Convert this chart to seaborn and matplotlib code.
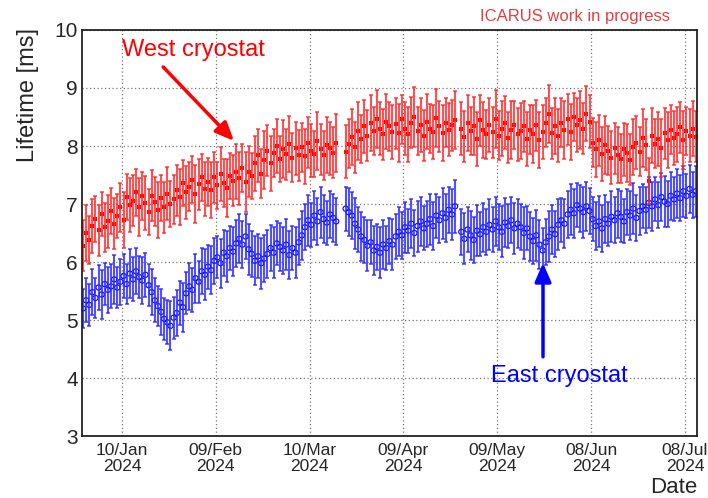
import numpy as np
import pandas as pd
import matplotlib
matplotlib.use("Agg")
import matplotlib.pyplot as plt
import matplotlib.dates as mdates
from matplotlib.ticker import MultipleLocator, FixedLocator
import seaborn as sns

nan = np.nan

# one point per day, starting 28 Dec 2023
start_day = "2023-12-28 12:00"

west_ms = [
    6.28, 6.50, 6.38, 6.62, 6.74, 6.55, 6.82, 6.60, 6.70, 6.88,
    6.66, 6.80, 6.94, 6.72, 7.12, 6.98, 7.06, 7.20, 6.94, 7.14,
    7.02, 6.86, 7.14, 7.04, 6.90, 7.10, 6.94, 7.18, 7.00, 7.08,
    7.24, 7.12, 7.36, 7.20, 7.30, 7.42, 7.18, 7.34, 7.46, 7.26,
    7.38, 7.24, 7.46, 7.32, 7.52, 7.36, 7.28, 7.48, 7.40, 7.56,
    7.44, 7.62, 7.38, 7.56, 7.48, 7.70, 7.84, 7.52, 7.76, 7.92,
    7.70, 7.88, 8.00, 7.78, 7.94, 7.86, 8.04, 7.80, 7.96, 7.84,
    7.98, 7.82, 8.06, 7.92, 7.86, 8.08, 7.94, 7.84, 8.02, 7.96,
    7.88, 8.06, nan, nan, 7.90, 8.04, 8.16, 7.98, 8.26, 8.12,
    8.34, 8.18, 8.40, 8.26, 8.46, 8.30, 8.20, 8.42, 8.34, 8.24,
    8.38, 8.22, 8.46, 8.30, 8.20, 8.40, 8.50, 8.26, 8.36, 8.18,
    8.42, 8.30, 8.24, 8.48, 8.34, 8.22, 8.40, 8.28, 8.36, 8.44,
    nan, 8.30, 8.16, 8.40, 8.26, 8.34, 8.12, 8.44, 8.28, 8.20,
    8.36, 8.24, 8.46, 8.18, 8.30, 8.40, 8.14, 8.28, 8.36, 8.20,
    8.26, 8.34, 8.12, 8.28, 8.20, 8.36, 8.10, 8.24, 8.40, 8.56,
    8.22, 8.34, 8.18, 8.40, 8.28, 8.46, 8.24, 8.50, 8.36, 8.44,
    8.30, 8.56, 8.42, 8.06, 7.94, 8.10, 7.86, 8.02, 7.92, 7.80,
    7.96, 7.84, 7.78, 7.94, 7.88, 7.76, 7.98, 8.06, 7.90, 8.14,
    8.02, 7.40, 8.18, 8.04, 8.12, 7.96, 8.22, 8.10, 8.28, 8.14,
    8.20, 8.32, 8.10, 8.26, 8.18, 8.30, 8.16,
]
west_err = [
    0.44, 0.48, 0.42, 0.46, 0.40, 0.44, 0.38, 0.42, 0.46, 0.40,
    0.44, 0.38, 0.42, 0.48, 0.40, 0.46, 0.44, 0.40, 0.50, 0.42,
    0.46, 0.40, 0.44, 0.42, 0.48, 0.40, 0.44, 0.46, 0.40, 0.42,
    0.44, 0.48, 0.40, 0.46, 0.42, 0.40, 0.50, 0.44, 0.40, 0.46,
    0.42, 0.48, 0.44, 0.40, 0.46, 0.42, 0.50, 0.40, 0.44, 0.48,
    0.46, 0.42, 0.52, 0.44, 0.40, 0.48, 0.46, 0.42, 0.50, 0.44,
    0.48, 0.42, 0.46, 0.40, 0.50, 0.44, 0.48, 0.42, 0.46, 0.44,
    0.42, 0.48, 0.44, 0.46, 0.40, 0.50, 0.44, 0.42, 0.48, 0.46,
    0.44, 0.50, nan, nan, 0.46, 0.42, 0.48, 0.44, 0.50, 0.42,
    0.46, 0.44, 0.48, 0.42, 0.50, 0.46, 0.44, 0.48, 0.42, 0.46,
    0.44, 0.50, 0.42, 0.46, 0.48, 0.44, 0.52, 0.42, 0.46, 0.44,
    0.48, 0.42, 0.46, 0.50, 0.44, 0.48, 0.42, 0.46, 0.44, 0.50,
    nan, 0.46, 0.44, 0.48, 0.42, 0.50, 0.46, 0.44, 0.48, 0.42,
    0.46, 0.44, 0.50, 0.42, 0.48, 0.46, 0.44, 0.50, 0.42, 0.46,
    0.48, 0.44, 0.46, 0.42, 0.50, 0.44, 0.48, 0.46, 0.42, 0.50,
    0.44, 0.48, 0.46, 0.42, 0.50, 0.44, 0.48, 0.42, 0.46, 0.50,
    0.44, 0.48, 0.46, 0.42, 0.48, 0.44, 0.46, 0.50, 0.42, 0.46,
    0.44, 0.48, 0.42, 0.46, 0.50, 0.44, 0.48, 0.46, 0.42, 0.50,
    0.44, 0.40, 0.48, 0.42, 0.46, 0.50, 0.44, 0.48, 0.42, 0.46,
    0.48, 0.44, 0.50, 0.42, 0.46, 0.48, 0.44,
]
east_ms = [
    5.20, 5.34, 5.26, 5.48, 5.38, 5.56, 5.44, 5.62, 5.52, 5.58,
    5.70, 5.56, 5.66, 5.76, 5.62, 5.80, 5.70, 5.84, 5.74, 5.68,
    5.78, 5.60, 5.48, 5.34, 5.24, 5.14, 5.02, 4.96, 4.90, 5.04,
    5.12, 5.30, 5.22, 5.46, 5.58, 5.52, 5.72, 5.66, 5.84, 5.78,
    5.92, 5.86, 6.02, 6.08, 5.98, 6.16, 6.10, 6.24, 6.18, 6.32,
    6.40, 6.30, 6.44, 6.22, 6.14, 6.02, 6.10, 5.98, 6.06, 6.14,
    6.24, 6.16, 6.32, 6.26, 6.20, 6.30, 6.12, 6.24, 6.16, 6.34,
    6.46, 6.60, 6.72, 6.64, 6.80, 6.70, 6.86, 6.74, 6.68, 6.82,
    6.76, 6.70, nan, nan, 6.92, 6.86, 6.80, 6.66, 6.56, 6.44,
    6.38, 6.28, 6.34, 6.20, 6.26, 6.16, 6.30, 6.24, 6.36, 6.30,
    6.44, 6.52, 6.46, 6.60, 6.54, 6.66, 6.50, 6.62, 6.70, 6.58,
    6.66, 6.74, 6.62, 6.80, 6.72, 6.84, 6.76, 6.90, 6.82, 6.96,
    nan, 6.52, 6.40, 6.56, 6.46, 6.38, 6.54, 6.48, 6.60, 6.52,
    6.64, 6.56, 6.70, 6.60, 6.52, 6.68, 6.62, 6.72, 6.58, 6.66,
    6.60, 6.50, 6.58, 6.44, 6.36, 6.46, 6.30, 6.20, 6.34, 6.44,
    6.56, 6.48, 6.64, 6.72, 6.66, 6.82, 6.90, 6.84, 6.98, 6.92,
    6.86, 6.96, 6.88, 6.74, 6.62, 6.70, 6.58, 6.74, 6.66, 6.78,
    6.72, 6.84, 6.78, 6.70, 6.86, 6.80, 6.92, 6.76, 6.88, 6.96,
    6.90, 7.02, 6.96, 7.08, 6.98, 7.12, 7.04, 7.00, 7.14, 7.08,
    7.18, 7.10, 7.22, 7.14, 7.26, 7.16, 7.22,
]
east_err = [
    0.34, 0.38, 0.36, 0.40, 0.34, 0.38, 0.42, 0.36, 0.40, 0.38,
    0.42, 0.36, 0.40, 0.38, 0.34, 0.42, 0.38, 0.40, 0.36, 0.40,
    0.38, 0.36, 0.40, 0.38, 0.34, 0.40, 0.36, 0.38, 0.42, 0.36,
    0.40, 0.38, 0.42, 0.36, 0.40, 0.38, 0.42, 0.36, 0.40, 0.44,
    0.38, 0.42, 0.40, 0.36, 0.42, 0.40, 0.44, 0.38, 0.42, 0.40,
    0.42, 0.40, 0.38, 0.44, 0.40, 0.42, 0.38, 0.44, 0.40, 0.42,
    0.40, 0.44, 0.38, 0.42, 0.40, 0.44, 0.42, 0.38, 0.44, 0.40,
    0.42, 0.40, 0.44, 0.38, 0.42, 0.40, 0.44, 0.42, 0.38, 0.40,
    0.42, 0.40, nan, nan, 0.38, 0.42, 0.40, 0.44, 0.38, 0.42,
    0.40, 0.44, 0.38, 0.42, 0.40, 0.44, 0.42, 0.38, 0.40, 0.44,
    0.38, 0.42, 0.40, 0.44, 0.38, 0.42, 0.40, 0.44, 0.42, 0.38,
    0.40, 0.44, 0.42, 0.38, 0.40, 0.44, 0.42, 0.40, 0.44, 0.46,
    nan, 0.40, 0.44, 0.38, 0.42, 0.40, 0.44, 0.38, 0.42, 0.40,
    0.44, 0.38, 0.42, 0.40, 0.44, 0.42, 0.38, 0.40, 0.44, 0.42,
    0.40, 0.44, 0.38, 0.42, 0.40, 0.44, 0.42, 0.38, 0.40, 0.44,
    0.42, 0.40, 0.44, 0.38, 0.42, 0.40, 0.44, 0.42, 0.38, 0.40,
    0.44, 0.42, 0.40, 0.38, 0.42, 0.44, 0.40, 0.42, 0.38, 0.44,
    0.40, 0.42, 0.44, 0.38, 0.40, 0.42, 0.44, 0.40, 0.42, 0.38,
    0.40, 0.44, 0.42, 0.38, 0.40, 0.42, 0.44, 0.40, 0.42, 0.38,
    0.42, 0.40, 0.44, 0.38, 0.42, 0.40, 0.44,
]

major_dates = ["2024-01-10", "2024-02-09", "2024-03-10", "2024-04-09",
               "2024-05-09", "2024-06-08", "2024-07-08"]

sns.set_style("white")
plt.rcParams["font.family"] = ["Liberation Sans", "DejaVu Sans"]

df = pd.DataFrame({
    "date": pd.date_range(start_day, periods=len(west_ms), freq="D"),
    "west": west_ms, "west_err": west_err,
    "east": east_ms, "east_err": east_err,
})

fig = plt.figure(figsize=(7.08, 4.98), dpi=100)
ax = fig.add_axes([82 / 708, 62 / 498, 615 / 708, 406 / 498])

# East cryostat (open blue circles)
ax.errorbar(df["date"], df["east"], yerr=df["east_err"], fmt="none",
            ecolor=(0.15, 0.15, 1.0, 0.8), elinewidth=1.5, capsize=1.6, capthick=1.2)
sns.scatterplot(data=df, x="date", y="east", ax=ax, marker="o", s=14,
                color="#0000ff", facecolor="none", edgecolor="#0000ff", linewidth=0.8)

# West cryostat (filled red markers)
ax.errorbar(df["date"], df["west"], yerr=df["west_err"], fmt="none",
            ecolor=(1.0, 0.15, 0.15, 0.8), elinewidth=1.5, capsize=1.6, capthick=1.2)
sns.scatterplot(data=df, x="date", y="west", ax=ax, marker="s", s=9,
                color="#ff0000", edgecolor="#ff0000", linewidth=0)

ax.set_xlim(pd.Timestamp("2023-12-28 05:00"), pd.Timestamp("2024-07-11 21:00"))
ax.set_ylim(3, 10)

majors = [mdates.date2num(pd.Timestamp(d)) for d in major_dates]
minors = [m + k * 7.5 for m in [majors[0] - 30] + majors for k in range(1, 4)]
ax.xaxis.set_major_locator(FixedLocator(majors))
ax.xaxis.set_minor_locator(FixedLocator(minors))
ax.xaxis.set_major_formatter(mdates.DateFormatter("%d/%b\n%Y"))
ax.yaxis.set_major_locator(MultipleLocator(1))
ax.yaxis.set_minor_locator(MultipleLocator(0.2))

ax.grid(True, which="major", linestyle=(0, (1, 2)), color="#777777", linewidth=0.9)
ax.tick_params(which="both", direction="in", top=False, right=False, color="#333333", width=1.0)
ax.tick_params(which="major", length=12)
ax.tick_params(which="minor", length=6)
ax.tick_params(axis="x", labelsize=12.5, pad=5)
ax.tick_params(axis="y", labelsize=15, pad=3)
for lab in ax.get_xticklabels():
    lab.set_horizontalalignment("center")
    lab.set_linespacing(1.1)
for sp in ax.spines.values():
    sp.set_visible(True)
    sp.set_color("#222222")
    sp.set_linewidth(1.3)
ax.set_xlabel("")
ax.set_ylabel("")

fig.text(28 / 708, 1 - 28 / 498, "Lifetime [ms]", rotation=90, ha="center", va="top", fontsize=17)
fig.text(697 / 708, 1 - 487 / 498, "Date", ha="right", va="center", fontsize=16)
fig.text(670 / 708, 1 - 17 / 498, "ICARUS work in progress", ha="right", va="center",
         fontsize=12, color="#e04040")

ax.text(0.065, 0.951, "West cryostat", transform=ax.transAxes, ha="left", va="center",
        fontsize=17, color="#ff0000")
ax.annotate("", xy=(0.247, 0.727), xytext=(0.132, 0.909), xycoords="axes fraction",
            textcoords="axes fraction",
            arrowprops=dict(arrowstyle="-|>,head_length=0.8,head_width=0.35", lw=2.5,
                            color="#ff0000", shrinkA=0, shrinkB=0, mutation_scale=14))
ax.text(0.665, 0.148, "East cryostat", transform=ax.transAxes, ha="left", va="center",
        fontsize=17, color="#0000ff")
ax.annotate("", xy=(0.7496, 0.426), xytext=(0.7496, 0.195), xycoords="axes fraction",
            textcoords="axes fraction",
            arrowprops=dict(arrowstyle="-|>,head_length=0.8,head_width=0.35", lw=2.5,
                            color="#0000ff", shrinkA=0, shrinkB=0, mutation_scale=14))

fig.savefig("out.png", dpi=100)
